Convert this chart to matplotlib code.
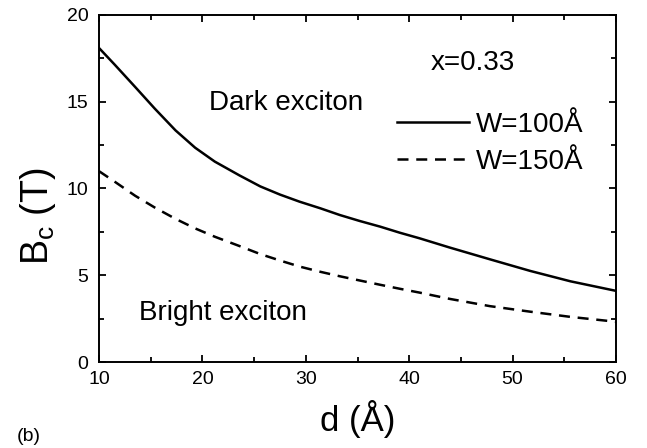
import numpy as np
import matplotlib
matplotlib.use("Agg")
import matplotlib.pyplot as plt
from matplotlib.ticker import MultipleLocator

plt.rcParams['font.family'] = ['Liberation Sans', 'DejaVu Sans']

# values (d in Angstrom, Bc in Tesla)
d = [10, 11.5, 13.5, 15.4, 17.4, 19.3, 21.2, 23.6, 25.6, 27.5, 29.4,
     31.4, 33.3, 35.2, 37.2, 39.1, 41, 43.9, 47.8, 51.7, 55.6, 60]
bc_w100 = [18.1, 17.15, 15.85, 14.6, 13.35, 12.35, 11.55, 10.75, 10.12, 9.65, 9.24,
           8.86, 8.47, 8.13, 7.8, 7.45, 7.13, 6.6, 5.92, 5.25, 4.65, 4.1]
bc_w150 = [11.0, 10.4, 9.58, 8.9, 8.25, 7.7, 7.22, 6.68, 6.22, 5.85, 5.5,
           5.2, 4.94, 4.7, 4.45, 4.22, 4.0, 3.64, 3.22, 2.9, 2.6, 2.32]
labels = ['W=100Å', 'W=150Å']

fig = plt.figure(figsize=(6.47, 4.48), dpi=100)
ax = fig.add_axes([99/647, 1-362/448, (616-99)/647, (362-15)/448])

ax.plot(d, bc_w100, color='black', lw=1.8, label=labels[0])
ax.plot(d, bc_w150, color='black', lw=1.8, ls=(0, (4.4, 3.1)), label=labels[1])

ax.set_xlim(10, 60)
ax.set_ylim(0, 20)
ax.xaxis.set_major_locator(MultipleLocator(10))
ax.xaxis.set_minor_locator(MultipleLocator(5))
ax.yaxis.set_major_locator(MultipleLocator(5))
ax.yaxis.set_minor_locator(MultipleLocator(2.5))
ax.tick_params(which='both', direction='in', top=True, right=True, width=1.3, labelsize=14)
ax.tick_params(which='major', length=5)
ax.tick_params(which='minor', length=3.4)
ax.tick_params(axis='x', pad=6.5)
ax.tick_params(axis='y', pad=7.5)
for s in ax.spines.values():
    s.set_linewidth(1.4)

ax.set_xlabel('d (Å)', fontsize=25)
ax.xaxis.set_label_coords(0.5, -0.11)
ax.set_ylabel(r'B$_\mathregular{c}$ (T)', fontsize=27)
ax.yaxis.set_label_coords(-0.08, 0.42)

fig.text(473/647, 1-63/448, 'x=0.33', fontsize=20, ha='center', va='center')
fig.text(209/647, 1-103/448, 'Dark exciton', fontsize=20, ha='left', va='center')
fig.text(139/647, 1-313/448, 'Bright exciton', fontsize=20, ha='left', va='center')
fig.text(17/647, 1-436/448, '(b)', fontsize=14, ha='left', va='center')

leg = ax.legend(loc='upper left', bbox_to_anchor=(397/647, 1-112/448), bbox_transform=fig.transFigure,
                frameon=False, fontsize=20, handlelength=2.6, handletextpad=0.25, labelspacing=0.38,
                borderaxespad=0, borderpad=0)

fig.savefig('out.png', dpi=100)
